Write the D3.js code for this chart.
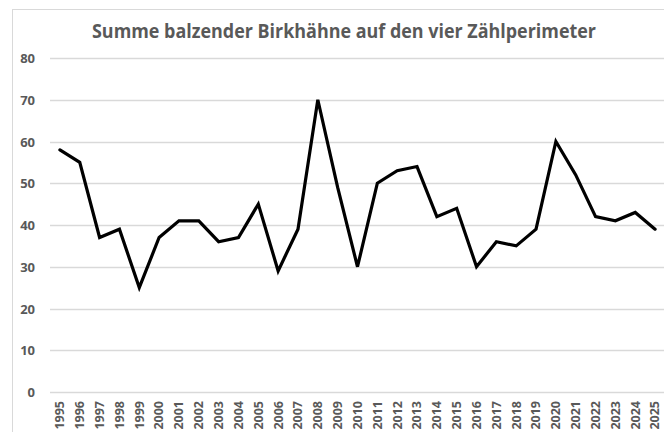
<!DOCTYPE html>
<html>
<head>
<meta charset="utf-8">
<script src="https://cdn.jsdelivr.net/npm/d3@7/dist/d3.min.js"></script>
<style>
  html, body { margin: 0; padding: 0; background: #fff; }
  svg { display: block; }
  text { font-family: "Open Sans", "Noto Sans", sans-serif; }
</style>
</head>
<body>
<svg id="chart" width="664" height="432"></svg>
<script>
const title = "Summe balzender Birkhähne auf den vier Zählperimeter";
const years = ["1995","1996","1997","1998","1999","2000","2001","2002","2003","2004",
  "2005","2006","2007","2008","2009","2010","2011","2012","2013","2014",
  "2015","2016","2017","2018","2019","2020","2021","2022","2023","2024","2025"];
const counts = [58,55,37,39,25,37,41,41,36,37,
  45,29,39,70,49,30,50,53,54,42,
  44,30,36,35,39,60,52,42,41,43,39];
const yTicks = [0,10,20,30,40,50,60,70,80];

const svg = d3.select("#chart");
const plot = {left: 50, right: 665, top: 58, bottom: 392};

// outer frame
svg.append("rect")
  .attr("x", 12.5).attr("y", 9.5)
  .attr("width", 700).attr("height", 500)
  .attr("fill", "#fff").attr("stroke", "#d9d9d9").attr("stroke-width", 1);

const x = d3.scaleBand().domain(years).range([plot.left, plot.right]).padding(0);
const y = d3.scaleLinear().domain([0, 80]).range([plot.bottom, plot.top]);

// gridlines
svg.append("g").selectAll("line").data(yTicks).join("line")
  .attr("x1", plot.left).attr("x2", plot.right)
  .attr("y1", d => Math.round(y(d)) + 0.5).attr("y2", d => Math.round(y(d)) + 0.5)
  .attr("stroke", "#d9d9d9").attr("stroke-width", 1.3);

// y axis labels
const yAxis = d3.axisLeft(y).tickValues(yTicks).tickSize(0).tickPadding(0);
const gy = svg.append("g").attr("transform", `translate(35,0)`).call(yAxis);
gy.select(".domain").remove();
gy.selectAll("text")
  .attr("fill", "#595959").attr("font-size", "13px").attr("font-weight", "bold")
  .attr("dy", "0.35em");

// x axis labels
const xAxis = d3.axisBottom(x).tickSize(0).tickPadding(0);
const gx = svg.append("g").attr("transform", `translate(0,${plot.bottom})`).call(xAxis);
gx.select(".domain").remove();
gx.selectAll("text")
  .attr("fill", "#595959").attr("font-size", "12.5px").attr("font-weight", "bold")
  .attr("text-anchor", "end")
  .attr("transform", "rotate(-90)")
  .attr("x", -9).attr("y", 0).attr("dy", "0.35em");

// line
const line = d3.line()
  .x((d, i) => x(years[i]) + x.bandwidth() / 2)
  .y(d => y(d));
svg.append("path").datum(counts)
  .attr("d", line)
  .attr("fill", "none").attr("stroke", "#000").attr("stroke-width", 3.2)
  .attr("stroke-linejoin", "miter").attr("stroke-linecap", "round");

// title
svg.append("text")
  .attr("x", 344).attr("y", 38)
  .attr("text-anchor", "middle")
  .attr("fill", "#595959").attr("font-size", "19px").attr("font-weight", "bold")
  .attr("textLength", 504).attr("lengthAdjust", "spacingAndGlyphs")
  .text(title);
</script>
</body>
</html>
